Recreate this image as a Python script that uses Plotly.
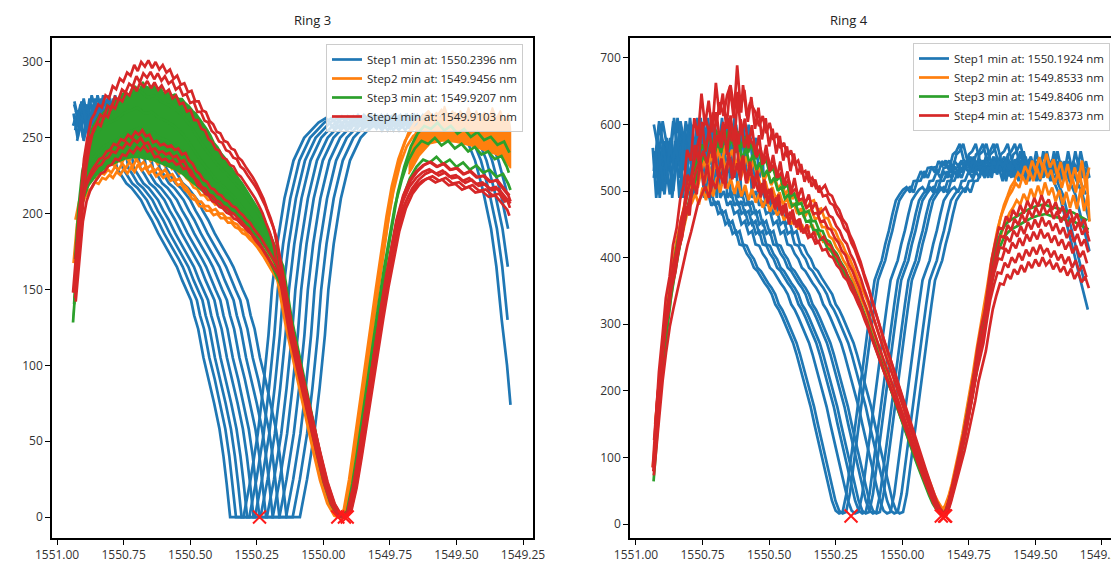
import numpy as np
import plotly.graph_objects as go

BLUE, ORANGE, GREEN, RED = "#1f77b4", "#ff7f0e", "#2ca02c", "#d62728"

# ---------------- Ring 3 ----------------
R3_LEGEND = ["Step1 min at: 1550.2396 nm", "Step2 min at: 1549.9456 nm",
             "Step3 min at: 1549.9207 nm", "Step4 min at: 1549.9103 nm"]
R3_MIN_X = [1550.2396, 1549.9456, 1549.9207, 1549.9103]
R3_MIN_Y = [0, 0, 0, 0]
R3_XLIM = [1549.297, 1550.940]

R3_BLUE = [(1551.20, 262), (1551.18, 250), (1551.16, 270), (1551.14, 256), (1551.12, 274), (1551.10, 258),
           (1551.08, 268), (1551.06, 248), (1551.04, 264), (1551.02, 255), (1551.00, 272), (1550.98, 260),
           (1550.96, 266), (1550.945, 250), (1550.93, 268), (1550.915, 258), (1550.90, 276), (1550.885, 262),
           (1550.87, 278), (1550.855, 268), (1550.84, 274), (1550.825, 262), (1550.81, 258),
           (1550.79, 245), (1550.775, 230), (1550.76, 226), (1550.74, 220), (1550.72, 217), (1550.70, 212),
           (1550.685, 209), (1550.665, 202), (1550.645, 196), (1550.62, 187), (1550.60, 181), (1550.585, 176),
           (1550.565, 170), (1550.55, 165), (1550.53, 156), (1550.515, 150), (1550.497, 143), (1550.485, 133),
           (1550.47, 124), (1550.45, 105), (1550.43, 91), (1550.41, 75), (1550.39, 58), (1550.375, 40),
           (1550.363, 22), (1550.355, 6), (1550.35, 0), (1550.31, 0), (1550.30, 0),
           (1550.273, 25), (1550.246, 55), (1550.226, 85), (1550.206, 120), (1550.193, 150), (1550.173, 180),
           (1550.146, 210), (1550.112, 235), (1550.072, 250), (1550.018, 260),
           (1549.99, 263), (1549.96, 256), (1549.93, 264), (1549.90, 258), (1549.87, 265), (1549.84, 257),
           (1549.81, 262), (1549.78, 255), (1549.75, 263), (1549.72, 258), (1549.69, 265), (1549.66, 259),
           (1549.63, 262), (1549.60, 256), (1549.57, 263), (1549.54, 258), (1549.51, 262),
           (1549.49, 257), (1549.46, 248), (1549.43, 235), (1549.40, 215), (1549.37, 190), (1549.35, 165),
           (1549.33, 130), (1549.31, 100), (1549.297, 74)]
R3_BLUE_SHIFTS = [0.0, 0.022, 0.043, 0.064, 0.088, 0.110, 0.135, 0.160, 0.185, 0.212]

R3_DESCENT = [(1550.122, 125), (1550.088, 97), (1550.055, 70), (1550.021, 44), (1549.994, 24),
              (1549.967, 9), (1549.941, 1), (1549.925, 0)]

R3_ORANGE_LEFT = [(1550.940, 145), (1550.926, 170), (1550.913, 196), (1550.899, 208), (1550.886, 213),
                  (1550.872, 218), (1550.859, 220), (1550.845, 224), (1550.832, 223), (1550.818, 227),
                  (1550.805, 226), (1550.791, 229), (1550.778, 227), (1550.764, 231), (1550.751, 229),
                  (1550.737, 233), (1550.724, 230), (1550.710, 234), (1550.697, 231), (1550.684, 236),
                  (1550.670, 232), (1550.657, 234), (1550.643, 230), (1550.630, 232), (1550.616, 228),
                  (1550.603, 230), (1550.589, 227), (1550.576, 229), (1550.562, 225), (1550.549, 226),
                  (1550.535, 222), (1550.522, 223), (1550.508, 219), (1550.495, 217), (1550.481, 213),
                  (1550.468, 212), (1550.454, 208), (1550.441, 208), (1550.427, 205), (1550.414, 205),
                  (1550.400, 202), (1550.387, 203), (1550.373, 200), (1550.360, 200), (1550.346, 197),
                  (1550.333, 197), (1550.319, 194), (1550.306, 193), (1550.292, 190), (1550.279, 189),
                  (1550.265, 186), (1550.252, 184), (1550.238, 181), (1550.225, 178), (1550.211, 174),
                  (1550.198, 170), (1550.184, 166), (1550.170, 162), (1550.155, 157)]
R3_ORANGE_RIGHT = [(1549.905, 5), (1549.885, 25), (1549.865, 50), (1549.845, 76), (1549.825, 100),
                   (1549.805, 125), (1549.785, 150), (1549.765, 175), (1549.745, 198), (1549.725, 218),
                   (1549.700, 236), (1549.675, 248), (1549.650, 255), (1549.625, 258), (1549.600, 262),
                   (1549.575, 257), (1549.550, 263), (1549.525, 258), (1549.500, 261), (1549.475, 256),
                   (1549.450, 262), (1549.425, 257), (1549.400, 260), (1549.375, 255), (1549.350, 259),
                   (1549.325, 254), (1549.305, 256), (1549.297, 250)]
R3_ORANGE_SCALES = [0.985, 1.0, 1.02]
R3_ORANGE_SHIFTS = [-0.012, -0.018, -0.006]

R3_ORANGE_BAND_UPPER = [(1549.680, 236), (1549.665, 247), (1549.650, 256), (1549.635, 263), (1549.620, 258),
                        (1549.605, 268), (1549.590, 261), (1549.575, 267), (1549.560, 262), (1549.545, 271),
                        (1549.530, 263), (1549.515, 268), (1549.500, 261), (1549.485, 268), (1549.470, 262),
                        (1549.455, 270), (1549.440, 263), (1549.425, 268), (1549.410, 261), (1549.395, 267),
                        (1549.380, 262), (1549.365, 270), (1549.350, 263), (1549.335, 268), (1549.320, 260),
                        (1549.305, 266), (1549.297, 256)]
R3_ORANGE_BAND_LOWER = [(1549.297, 230), (1549.320, 236), (1549.350, 239), (1549.400, 242), (1549.450, 245),
                        (1549.500, 247), (1549.550, 248), (1549.600, 246), (1549.640, 238), (1549.665, 230),
                        (1549.680, 226)]

R3_GREEN_LEFT = [(1550.940, 135), (1550.926, 170), (1550.913, 205), (1550.899, 228), (1550.879, 243),
                 (1550.852, 252), (1550.825, 257), (1550.799, 260), (1550.772, 262), (1550.745, 266),
                 (1550.718, 268), (1550.692, 270), (1550.665, 266), (1550.638, 267), (1550.611, 263),
                 (1550.584, 261), (1550.557, 258), (1550.530, 254), (1550.503, 248), (1550.477, 241),
                 (1550.450, 234), (1550.423, 228), (1550.396, 222), (1550.369, 218), (1550.343, 213),
                 (1550.316, 208), (1550.289, 202), (1550.262, 196), (1550.236, 189), (1550.209, 181),
                 (1550.182, 170), (1550.155, 159)]
R3_GREEN_RIGHT = [(1549.905, 4), (1549.885, 22), (1549.865, 45), (1549.845, 70), (1549.825, 93),
                  (1549.805, 117), (1549.785, 142), (1549.765, 165), (1549.745, 186), (1549.725, 205),
                  (1549.700, 222), (1549.675, 235), (1549.650, 243), (1549.625, 248), (1549.600, 246),
                  (1549.575, 250), (1549.550, 245), (1549.525, 248), (1549.500, 243), (1549.475, 246),
                  (1549.450, 241), (1549.425, 244), (1549.400, 239), (1549.375, 241), (1549.350, 236),
                  (1549.325, 238), (1549.305, 231), (1549.297, 227)]
R3_GREEN_SCALES = [0.95, 1.0, 1.04]
R3_GREEN_SHIFTS = [0.0, -0.006, 0.004]

R3_GREEN_BAND_UPPER = [(1550.935, 140), (1550.920, 185), (1550.905, 220), (1550.893, 240), (1550.879, 252),
                       (1550.866, 258), (1550.852, 262), (1550.839, 266), (1550.825, 264), (1550.812, 272),
                       (1550.799, 270), (1550.785, 276), (1550.772, 274), (1550.759, 279), (1550.745, 280),
                       (1550.732, 278), (1550.718, 283), (1550.705, 284), (1550.692, 281), (1550.678, 287),
                       (1550.665, 284), (1550.651, 283), (1550.638, 285), (1550.625, 282), (1550.611, 283),
                       (1550.598, 279), (1550.584, 280), (1550.571, 278), (1550.557, 279), (1550.544, 276),
                       (1550.530, 276), (1550.517, 273), (1550.503, 271), (1550.490, 268), (1550.477, 266),
                       (1550.464, 263), (1550.450, 259), (1550.437, 256), (1550.423, 252), (1550.410, 247),
                       (1550.396, 244), (1550.383, 240), (1550.369, 237), (1550.356, 233), (1550.343, 230),
                       (1550.329, 226), (1550.316, 223), (1550.303, 220), (1550.289, 216), (1550.276, 213),
                       (1550.262, 209), (1550.249, 205), (1550.236, 201), (1550.222, 197), (1550.209, 191),
                       (1550.195, 185), (1550.182, 178), (1550.170, 170), (1550.155, 160)]
R3_GREEN_BAND_LOWER = [(1550.155, 157), (1550.182, 167), (1550.209, 175), (1550.236, 182), (1550.262, 188),
                       (1550.289, 193), (1550.316, 197), (1550.343, 200), (1550.369, 203), (1550.396, 206),
                       (1550.423, 210), (1550.450, 214), (1550.477, 218), (1550.503, 222), (1550.530, 226),
                       (1550.557, 229), (1550.584, 231), (1550.611, 233), (1550.638, 235), (1550.665, 236),
                       (1550.692, 237), (1550.718, 237), (1550.745, 236), (1550.772, 234), (1550.799, 232),
                       (1550.825, 229), (1550.852, 225), (1550.879, 219), (1550.899, 210), (1550.913, 196),
                       (1550.926, 168), (1550.940, 130)]

R3_RED_UP_LEFT = [(1550.940, 148), (1550.926, 178), (1550.913, 210), (1550.899, 236), (1550.886, 250),
                  (1550.872, 262), (1550.859, 266), (1550.845, 272), (1550.832, 270), (1550.818, 278),
                  (1550.805, 276), (1550.791, 284), (1550.778, 282), (1550.764, 289), (1550.751, 287),
                  (1550.737, 293), (1550.724, 291), (1550.710, 298), (1550.697, 294), (1550.684, 300),
                  (1550.670, 297), (1550.657, 301), (1550.643, 296), (1550.630, 300), (1550.616, 295),
                  (1550.603, 298), (1550.589, 293), (1550.576, 295), (1550.562, 289), (1550.549, 291),
                  (1550.535, 285), (1550.522, 286), (1550.508, 280), (1550.495, 281), (1550.481, 274),
                  (1550.468, 274), (1550.454, 268), (1550.441, 267), (1550.427, 261), (1550.414, 259),
                  (1550.400, 254), (1550.387, 253), (1550.373, 248), (1550.360, 247), (1550.346, 243),
                  (1550.333, 242), (1550.319, 237), (1550.306, 235), (1550.292, 231), (1550.279, 228),
                  (1550.265, 224), (1550.252, 220), (1550.238, 215), (1550.225, 210), (1550.211, 203),
                  (1550.198, 197), (1550.184, 189), (1550.170, 176), (1550.155, 160)]
R3_RED_LO_LEFT = [(1550.940, 148), (1550.926, 175), (1550.913, 203), (1550.899, 217), (1550.886, 224),
                  (1550.872, 229), (1550.859, 232), (1550.845, 236), (1550.832, 237), (1550.818, 241),
                  (1550.805, 242), (1550.791, 246), (1550.778, 245), (1550.764, 249), (1550.751, 248),
                  (1550.737, 252), (1550.724, 250), (1550.710, 254), (1550.697, 252), (1550.684, 255),
                  (1550.670, 251), (1550.657, 252), (1550.643, 247), (1550.630, 248), (1550.616, 245),
                  (1550.603, 246), (1550.589, 244), (1550.576, 245), (1550.562, 242), (1550.549, 243),
                  (1550.535, 239), (1550.522, 240), (1550.508, 235), (1550.495, 233), (1550.481, 228),
                  (1550.468, 226), (1550.454, 222), (1550.441, 221), (1550.427, 217), (1550.414, 216),
                  (1550.400, 213), (1550.387, 212), (1550.373, 209), (1550.360, 208), (1550.346, 205),
                  (1550.333, 204), (1550.319, 201), (1550.306, 199), (1550.292, 196), (1550.279, 194),
                  (1550.265, 190), (1550.252, 187), (1550.238, 184), (1550.225, 180), (1550.211, 176),
                  (1550.198, 172), (1550.184, 168), (1550.170, 164), (1550.155, 158)]
R3_RED_RIGHT = [(1549.905, 4), (1549.885, 20), (1549.865, 42), (1549.845, 66), (1549.825, 90),
                (1549.805, 112), (1549.785, 136), (1549.765, 158), (1549.745, 178), (1549.725, 196),
                (1549.700, 212), (1549.675, 222), (1549.650, 228), (1549.625, 232), (1549.600, 234),
                (1549.575, 231), (1549.550, 233), (1549.525, 229), (1549.500, 230), (1549.475, 226),
                (1549.450, 228), (1549.425, 224), (1549.400, 225), (1549.375, 221), (1549.350, 222),
                (1549.325, 216), (1549.305, 212), (1549.297, 208)]
R3_RED_UP_SCALES = [1.0, 0.975, 0.955]
R3_RED_UP_SHIFTS = [0.0, 0.008, -0.004]
R3_RED_LO_SCALES = [1.0, 0.98, 0.96]
R3_RED_LO_SHIFTS = [0.004, -0.002, 0.010]

# ---------------- Ring 4 ----------------
R4_LEGEND = ["Step1 min at: 1550.1924 nm", "Step2 min at: 1549.8533 nm",
             "Step3 min at: 1549.8406 nm", "Step4 min at: 1549.8373 nm"]
R4_MIN_X = [1550.1924, 1549.8533, 1549.8406, 1549.8373]
R4_MIN_Y = [12, 12, 12, 12]
R4_XLIM = [1549.297, 1550.937]

R4_BLUE = [(1551.20, 540), (1551.18, 580), (1551.16, 520), (1551.14, 600), (1551.12, 555), (1551.10, 495),
           (1551.08, 570), (1551.06, 530), (1551.04, 605), (1551.02, 560), (1551.00, 500), (1550.98, 575),
           (1550.96, 540), (1550.937, 565), (1550.924, 490), (1550.911, 545), (1550.897, 520), (1550.884, 580),
           (1550.871, 545), (1550.857, 610), (1550.844, 560), (1550.830, 590), (1550.817, 540), (1550.804, 600),
           (1550.790, 555), (1550.777, 580), (1550.764, 520), (1550.750, 540), (1550.744, 490), (1550.730, 500),
           (1550.717, 478), (1550.704, 485), (1550.691, 466), (1550.677, 470), (1550.664, 450), (1550.651, 455),
           (1550.637, 436), (1550.624, 440), (1550.611, 420), (1550.597, 418), (1550.584, 406), (1550.570, 398),
           (1550.557, 385), (1550.544, 380), (1550.530, 370), (1550.517, 362), (1550.504, 355), (1550.490, 345),
           (1550.477, 330), (1550.464, 322), (1550.450, 310), (1550.437, 298), (1550.424, 285), (1550.410, 272),
           (1550.397, 255), (1550.384, 236), (1550.370, 215), (1550.357, 196), (1550.344, 176), (1550.330, 150),
           (1550.317, 128), (1550.304, 105), (1550.290, 80), (1550.277, 56), (1550.264, 35), (1550.250, 20),
           (1550.237, 16), (1550.224, 18), (1550.210, 45), (1550.197, 85), (1550.184, 125), (1550.170, 170),
           (1550.157, 216), (1550.144, 255), (1550.130, 291), (1550.117, 330), (1550.104, 366), (1550.090, 382),
           (1550.077, 396), (1550.064, 420), (1550.050, 441), (1550.037, 465), (1550.024, 486), (1550.010, 495),
           (1549.997, 502), (1549.984, 506), (1549.970, 498), (1549.957, 515), (1549.944, 516), (1549.930, 530),
           (1549.917, 520), (1549.904, 535), (1549.890, 536), (1549.877, 528), (1549.864, 545), (1549.850, 538),
           (1549.837, 546), (1549.824, 532), (1549.810, 555), (1549.797, 560), (1549.784, 571), (1549.770, 548),
           (1549.757, 540), (1549.744, 552), (1549.730, 530), (1549.717, 545), (1549.704, 525), (1549.690, 540),
           (1549.677, 520), (1549.664, 548), (1549.650, 528), (1549.637, 535), (1549.623, 515), (1549.610, 540),
           (1549.597, 522), (1549.584, 545), (1549.570, 530), (1549.557, 560), (1549.544, 535), (1549.530, 528),
           (1549.517, 545), (1549.504, 520), (1549.490, 532), (1549.464, 530), (1549.437, 520), (1549.410, 495),
           (1549.384, 455), (1549.357, 410), (1549.330, 365), (1549.303, 322), (1549.280, 290), (1549.250, 260)]
R4_BLUE_SHIFTS = [0.0, 0.013, 0.060, 0.087, 0.100, 0.127, 0.140, 0.180, 0.207, 0.227]

R4_ORANGE = [(1550.937, 90), (1550.924, 150), (1550.911, 212), (1550.897, 268), (1550.884, 315),
             (1550.871, 355), (1550.857, 392), (1550.844, 425), (1550.830, 452), (1550.817, 478),
             (1550.804, 498), (1550.790, 508), (1550.777, 522), (1550.764, 505), (1550.750, 532),
             (1550.737, 512), (1550.724, 540), (1550.710, 518), (1550.697, 548), (1550.684, 524),
             (1550.670, 552), (1550.657, 530), (1550.644, 546), (1550.630, 522), (1550.617, 542),
             (1550.604, 518), (1550.590, 536), (1550.577, 512), (1550.564, 530), (1550.550, 508),
             (1550.537, 522), (1550.524, 500), (1550.510, 515), (1550.497, 494), (1550.484, 506),
             (1550.470, 488), (1550.457, 498), (1550.444, 480), (1550.430, 490), (1550.417, 474),
             (1550.404, 482), (1550.390, 466), (1550.377, 474), (1550.364, 460), (1550.350, 470),
             (1550.337, 472), (1550.324, 458), (1550.310, 460), (1550.297, 446), (1550.284, 446),
             (1550.270, 432), (1550.257, 428), (1550.244, 416), (1550.230, 408), (1550.217, 396),
             (1550.204, 388), (1550.190, 375), (1550.177, 365), (1550.164, 352), (1550.150, 340),
             (1550.137, 326), (1550.124, 312), (1550.110, 296), (1550.097, 282), (1550.084, 266),
             (1550.070, 252), (1550.057, 236), (1550.044, 222), (1550.030, 206), (1550.017, 191),
             (1550.004, 176), (1549.990, 160), (1549.977, 145), (1549.964, 130), (1549.950, 115),
             (1549.937, 100), (1549.924, 85), (1549.910, 70), (1549.897, 56), (1549.884, 43),
             (1549.870, 32), (1549.857, 24), (1549.845, 22), (1549.835, 28), (1549.822, 42),
             (1549.810, 60), (1549.797, 82), (1549.784, 108), (1549.770, 136), (1549.757, 165),
             (1549.744, 195), (1549.730, 228), (1549.717, 262), (1549.704, 292), (1549.690, 322),
             (1549.677, 356), (1549.664, 390), (1549.650, 420), (1549.637, 445), (1549.623, 465),
             (1549.610, 478), (1549.597, 492), (1549.584, 500), (1549.570, 512), (1549.557, 505),
             (1549.544, 522), (1549.530, 510), (1549.517, 530), (1549.504, 515), (1549.490, 535),
             (1549.477, 518), (1549.464, 540), (1549.450, 520), (1549.437, 532), (1549.424, 510),
             (1549.410, 528), (1549.397, 505), (1549.384, 525), (1549.370, 500), (1549.357, 520),
             (1549.344, 498), (1549.330, 530), (1549.317, 495), (1549.303, 520), (1549.297, 478)]
R4_ORANGE_SCALES = [0.95, 1.0, 1.03]
R4_ORANGE_SHIFTS = [0.0, -0.004, 0.005]

R4_GREEN = [(1550.937, 66), (1550.924, 140), (1550.911, 205), (1550.897, 262), (1550.884, 312),
            (1550.871, 352), (1550.857, 388), (1550.844, 420), (1550.830, 450), (1550.817, 476),
            (1550.804, 500), (1550.790, 520), (1550.777, 538), (1550.764, 552), (1550.750, 570),
            (1550.737, 560), (1550.724, 585), (1550.710, 568), (1550.697, 592), (1550.684, 575),
            (1550.670, 600), (1550.657, 580), (1550.644, 598), (1550.630, 575), (1550.617, 590),
            (1550.604, 565), (1550.590, 582), (1550.577, 558), (1550.564, 572), (1550.550, 548),
            (1550.537, 560), (1550.524, 538), (1550.510, 548), (1550.497, 528), (1550.484, 536),
            (1550.470, 516), (1550.457, 522), (1550.444, 504), (1550.430, 510), (1550.417, 492),
            (1550.404, 496), (1550.390, 480), (1550.377, 482), (1550.364, 468), (1550.350, 470),
            (1550.337, 455), (1550.324, 455), (1550.310, 441), (1550.297, 440), (1550.284, 427),
            (1550.270, 424), (1550.257, 412), (1550.244, 406), (1550.230, 394), (1550.217, 386),
            (1550.204, 374), (1550.190, 364), (1550.177, 352), (1550.164, 340), (1550.150, 326),
            (1550.137, 312), (1550.124, 297), (1550.110, 282), (1550.097, 266), (1550.084, 250),
            (1550.070, 235), (1550.057, 219), (1550.044, 204), (1550.030, 188), (1550.017, 173),
            (1550.004, 158), (1549.990, 142), (1549.977, 127), (1549.964, 112), (1549.950, 98),
            (1549.937, 84), (1549.924, 70), (1549.910, 56), (1549.897, 43), (1549.884, 31),
            (1549.870, 22), (1549.857, 16), (1549.845, 14), (1549.835, 20), (1549.822, 35),
            (1549.810, 54), (1549.797, 77), (1549.784, 102), (1549.770, 130), (1549.757, 159),
            (1549.744, 188), (1549.730, 220), (1549.717, 252), (1549.704, 282), (1549.690, 312),
            (1549.677, 346), (1549.664, 380), (1549.650, 408), (1549.637, 428), (1549.623, 442),
            (1549.610, 450), (1549.597, 455), (1549.570, 462), (1549.544, 468), (1549.517, 474),
            (1549.490, 478), (1549.464, 480), (1549.437, 476), (1549.410, 474), (1549.384, 470),
            (1549.357, 468), (1549.330, 462), (1549.303, 456)]
R4_GREEN_SCALES = [0.97, 1.0]
R4_GREEN_SHIFTS = [0.003, -0.002]

R4_RED = [(1550.937, 85), (1550.924, 150), (1550.917, 195), (1550.904, 250), (1550.891, 300),
          (1550.877, 345), (1550.864, 375), (1550.850, 405), (1550.837, 436), (1550.824, 462),
          (1550.811, 486), (1550.797, 510), (1550.784, 536), (1550.771, 560), (1550.757, 575),
          (1550.744, 590), (1550.730, 570), (1550.717, 600), (1550.704, 585), (1550.691, 615),
          (1550.677, 595), (1550.664, 625), (1550.651, 640), (1550.637, 605), (1550.624, 630),
          (1550.611, 600), (1550.604, 640), (1550.590, 595), (1550.577, 615), (1550.557, 600),
          (1550.544, 580), (1550.530, 595), (1550.517, 570), (1550.504, 585), (1550.490, 560),
          (1550.477, 570), (1550.464, 548), (1550.450, 556), (1550.437, 535), (1550.424, 545),
          (1550.410, 525), (1550.397, 530), (1550.384, 512), (1550.370, 515), (1550.357, 500),
          (1550.344, 505), (1550.330, 490), (1550.317, 492), (1550.304, 478), (1550.290, 480),
          (1550.277, 468), (1550.264, 465), (1550.250, 452), (1550.237, 445), (1550.224, 432),
          (1550.210, 425), (1550.197, 410), (1550.184, 400), (1550.170, 385), (1550.157, 372),
          (1550.144, 355), (1550.130, 340), (1550.117, 322), (1550.104, 305), (1550.090, 288),
          (1550.077, 272), (1550.064, 255), (1550.050, 240), (1550.037, 224), (1550.024, 208),
          (1550.010, 192), (1549.997, 176), (1549.984, 160), (1549.970, 143), (1549.957, 127),
          (1549.944, 111), (1549.930, 95), (1549.917, 79), (1549.904, 64), (1549.890, 48),
          (1549.877, 34), (1549.864, 23), (1549.850, 16), (1549.840, 14), (1549.830, 25),
          (1549.820, 40), (1549.810, 58), (1549.797, 80), (1549.784, 100), (1549.770, 128),
          (1549.757, 155), (1549.744, 182), (1549.730, 215), (1549.717, 250), (1549.704, 278),
          (1549.690, 302), (1549.677, 340), (1549.664, 375), (1549.650, 400), (1549.637, 420),
          (1549.623, 418), (1549.610, 436), (1549.597, 428), (1549.584, 445), (1549.570, 436),
          (1549.557, 452), (1549.544, 440), (1549.530, 458), (1549.517, 447), (1549.504, 462),
          (1549.490, 450), (1549.477, 466), (1549.464, 452), (1549.450, 460), (1549.437, 445),
          (1549.424, 456), (1549.410, 440), (1549.397, 450), (1549.384, 434), (1549.370, 446),
          (1549.357, 428), (1549.344, 440), (1549.330, 422), (1549.317, 432), (1549.303, 412)]
# second set of red sweeps: different noisy peak, same tail (x < 1550.30) as R4_RED
R4_RED_PEAK_B = [(1550.937, 80), (1550.927, 140), (1550.914, 215), (1550.901, 265), (1550.888, 320),
                 (1550.874, 350), (1550.861, 395), (1550.847, 420), (1550.834, 460), (1550.821, 480),
                 (1550.808, 530), (1550.794, 515), (1550.781, 575), (1550.767, 550), (1550.754, 610),
                 (1550.741, 565), (1550.727, 600), (1550.714, 555), (1550.700, 625), (1550.687, 580),
                 (1550.674, 610), (1550.660, 560), (1550.647, 620), (1550.633, 575), (1550.620, 650),
                 (1550.607, 590), (1550.593, 615), (1550.580, 570), (1550.567, 605), (1550.553, 560),
                 (1550.540, 590), (1550.527, 545), (1550.513, 575), (1550.500, 535), (1550.487, 560),
                 (1550.473, 525), (1550.460, 550), (1550.447, 515), (1550.433, 535), (1550.420, 500),
                 (1550.407, 525), (1550.393, 495), (1550.380, 510), (1550.367, 485), (1550.353, 500),
                 (1550.340, 478), (1550.327, 488), (1550.314, 470)]
R4_RED_SCALES = [0.86, 0.95, 1.03]
R4_RED_SHIFTS = [0.004, -0.003, 0.006]
R4_RED_B_SCALES = [0.90, 0.99, 1.06]
R4_RED_B_SHIFTS = [-0.005, 0.002, 0.0]

X_TICKS = [1551.0, 1550.75, 1550.5, 1550.25, 1550.0, 1549.75, 1549.5, 1549.25]
X_TICK_TEXT = ["1551.00", "1550.75", "1550.50", "1550.25", "1550.00", "1549.75", "1549.50", "1549.25"]
R3_Y_TICKS = [0, 50, 100, 150, 200, 250, 300]
R4_Y_TICKS = [0, 100, 200, 300, 400, 500, 600, 700]

FONT = "Open Sans"
LW = 2.7


def curve(points, shift, scale, lim):
    x = np.array([p[0] for p in points]) - shift
    y = np.array([p[1] for p in points]) * scale
    m = (x >= lim[0] - 1e-9) & (x <= lim[1] + 1e-9)
    return x[m], y[m]


fig = go.Figure()


def add_line(x, y, color, xa, ya, leg, name=None):
    fig.add_trace(go.Scatter(x=x, y=y, mode="lines", line=dict(color=color, width=LW),
                             xaxis=xa, yaxis=ya, legend=leg, name=name or "",
                             showlegend=name is not None, hoverinfo="skip"))


def add_band(upper, lower, color, xa, ya):
    pts = list(upper) + list(lower)
    fig.add_trace(go.Scatter(x=[p[0] for p in pts], y=[p[1] for p in pts], mode="lines",
                             fill="toself", fillcolor=color, line=dict(color=color, width=1.5),
                             xaxis=xa, yaxis=ya, showlegend=False, hoverinfo="skip"))


# ---- Ring 3 traces ----
for i, s in enumerate(R3_BLUE_SHIFTS):
    x, y = curve(R3_BLUE, s, 1.0, R3_XLIM)
    add_line(x, y, BLUE, "x", "y", "legend", R3_LEGEND[0] if i == 0 else None)
r3_orange = R3_ORANGE_LEFT + R3_DESCENT + R3_ORANGE_RIGHT
for i, (sc, sh) in enumerate(zip(R3_ORANGE_SCALES, R3_ORANGE_SHIFTS)):
    x, y = curve(r3_orange, sh, sc, R3_XLIM)
    add_line(x, y, ORANGE, "x", "y", "legend", R3_LEGEND[1] if i == 0 else None)
add_band(R3_ORANGE_BAND_UPPER, R3_ORANGE_BAND_LOWER, ORANGE, "x", "y")
r3_green = R3_GREEN_LEFT + R3_DESCENT + R3_GREEN_RIGHT
add_band(R3_GREEN_BAND_UPPER, R3_GREEN_BAND_LOWER, GREEN, "x", "y")
for i, (sc, sh) in enumerate(zip(R3_GREEN_SCALES, R3_GREEN_SHIFTS)):
    x, y = curve(r3_green, sh, sc, R3_XLIM)
    add_line(x, y, GREEN, "x", "y", "legend", R3_LEGEND[2] if i == 0 else None)
r3_red_up = R3_RED_UP_LEFT + R3_DESCENT + R3_RED_RIGHT
r3_red_lo = R3_RED_LO_LEFT + R3_DESCENT + R3_RED_RIGHT
first = True
for tmpl, scales, shifts in [(r3_red_up, R3_RED_UP_SCALES, R3_RED_UP_SHIFTS),
                             (r3_red_lo, R3_RED_LO_SCALES, R3_RED_LO_SHIFTS)]:
    for sc, sh in zip(scales, shifts):
        x, y = curve(tmpl, sh, sc, R3_XLIM)
        add_line(x, y, RED, "x", "y", "legend", R3_LEGEND[3] if first else None)
        first = False

# ---- Ring 4 traces ----
for i, s in enumerate(R4_BLUE_SHIFTS):
    x, y = curve(R4_BLUE, s, 1.0, R4_XLIM)
    add_line(x, y, BLUE, "x2", "y2", "legend2", R4_LEGEND[0] if i == 0 else None)
for i, (sc, sh) in enumerate(zip(R4_ORANGE_SCALES, R4_ORANGE_SHIFTS)):
    x, y = curve(R4_ORANGE, sh, sc, R4_XLIM)
    add_line(x, y, ORANGE, "x2", "y2", "legend2", R4_LEGEND[1] if i == 0 else None)
for i, (sc, sh) in enumerate(zip(R4_GREEN_SCALES, R4_GREEN_SHIFTS)):
    x, y = curve(R4_GREEN, sh, sc, R4_XLIM)
    add_line(x, y, GREEN, "x2", "y2", "legend2", R4_LEGEND[2] if i == 0 else None)
r4_red_b = R4_RED_PEAK_B + [p for p in R4_RED if p[0] < 1550.30]
first = True
for tmpl, scales, shifts in [(R4_RED, R4_RED_SCALES, R4_RED_SHIFTS),
                             (r4_red_b, R4_RED_B_SCALES, R4_RED_B_SHIFTS)]:
    for sc, sh in zip(scales, shifts):
        x, y = curve(tmpl, sh, sc, R4_XLIM)
        add_line(x, y, RED, "x2", "y2", "legend2", R4_LEGEND[3] if first else None)
        first = False

# ---- minimum markers ----
for mx, my, xa, ya in [(R3_MIN_X, R3_MIN_Y, "x", "y"), (R4_MIN_X, R4_MIN_Y, "x2", "y2")]:
    fig.add_trace(go.Scatter(x=mx, y=my, mode="markers", xaxis=xa, yaxis=ya, showlegend=False,
                             marker=dict(symbol="x-thin", size=13, color="#ff1a1a",
                                         line=dict(color="#ff1a1a", width=2)),
                             hoverinfo="skip"))

axis_common = dict(showline=True, linecolor="black", linewidth=1.5, mirror=True, showgrid=False,
                   zeroline=False, ticks="outside", ticklen=5, tickwidth=1.3, tickcolor="black",
                   tickfont=dict(family=FONT, size=12, color="#333333"), automargin=False)

legend_common = dict(bgcolor="rgba(255,255,255,0.8)", bordercolor="#cccccc", borderwidth=1,
                     font=dict(family=FONT, size=11.5, color="#262626"), xanchor="right",
                     yanchor="top", itemwidth=30, tracegroupgap=0)

fig.update_layout(
    width=1111, height=565, margin=dict(l=0, r=0, t=0, b=0),
    paper_bgcolor="white", plot_bgcolor="white", showlegend=True,
    xaxis=dict(domain=[52 / 1111, 533 / 1111], range=[1551.019, 1549.2125], anchor="y",
               tickvals=X_TICKS, ticktext=X_TICK_TEXT, **axis_common),
    yaxis=dict(domain=[1 - 538 / 565, 1 - 38 / 565], range=[-13.8, 315.8], anchor="x",
               tickvals=R3_Y_TICKS, **axis_common),
    xaxis2=dict(domain=[630 / 1111, 1.0], range=[1551.0225, 1549.216], anchor="y2",
                tickvals=X_TICKS, ticktext=X_TICK_TEXT, ticklabeloverflow="allow", **axis_common),
    yaxis2=dict(domain=[1 - 538 / 565, 1 - 38 / 565], range=[-21, 730], anchor="x2",
                tickvals=R4_Y_TICKS, **axis_common),
    legend=dict(x=523 / 1111, y=1 - 44 / 565, **legend_common),
    legend2=dict(x=1110 / 1111, y=1 - 43 / 565, **legend_common),
    annotations=[
        dict(text="Ring 3", x=292 / 1111, y=1 - 20 / 565, xref="paper", yref="paper",
             showarrow=False, font=dict(family=FONT, size=13, color="#222222"), yanchor="middle"),
        dict(text="Ring 4", x=870 / 1111, y=1 - 20 / 565, xref="paper", yref="paper",
             showarrow=False, font=dict(family=FONT, size=13, color="#222222"), yanchor="middle"),
    ],
)

fig.write_html("out.html", config={"displayModeBar": False},
               post_script="document.body.style.margin='0';document.body.style.overflow='hidden';")
